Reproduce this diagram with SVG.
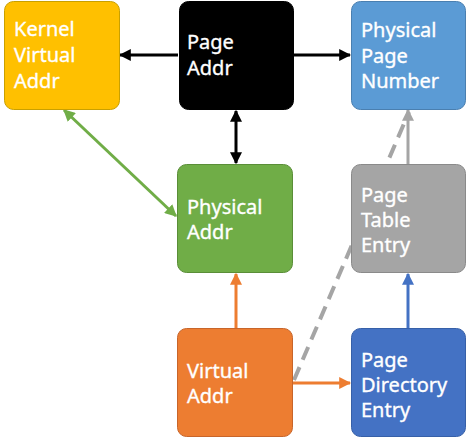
<svg xmlns="http://www.w3.org/2000/svg" width="467" height="438" viewBox="0 0 467 438">
<defs>
<style>
.box{stroke-width:1}
.t{font-family:"Noto Sans","Open Sans","DejaVu Sans",sans-serif;font-size:20px;fill:#fff;stroke:#fff;stroke-width:0.35px}
.c{fill:none;stroke-width:3}
</style>
<marker id="ak" viewBox="0 0 10 10" refX="9" refY="5" markerWidth="4" markerHeight="4" orient="auto-start-reverse" markerUnits="strokeWidth"><path d="M0,0L10,5L0,10z" fill="#000"/></marker>
<marker id="ag" viewBox="0 0 10 10" refX="9" refY="5" markerWidth="4" markerHeight="4" orient="auto-start-reverse" markerUnits="strokeWidth"><path d="M0,0L10,5L0,10z" fill="#70AD47"/></marker>
<marker id="ao" viewBox="0 0 10 10" refX="9" refY="5" markerWidth="4" markerHeight="4" orient="auto" markerUnits="strokeWidth"><path d="M0,0L10,5L0,10z" fill="#ED7D31"/></marker>
<marker id="ab" viewBox="0 0 10 10" refX="9" refY="5" markerWidth="4" markerHeight="4" orient="auto" markerUnits="strokeWidth"><path d="M0,0L10,5L0,10z" fill="#4472C4"/></marker>
<marker id="ay" viewBox="0 0 10 10" refX="9" refY="5" markerWidth="4" markerHeight="4" orient="auto" markerUnits="strokeWidth"><path d="M0,0L10,5L0,10z" fill="#A5A5A5"/></marker>
</defs>
<g id="connectors">
<line x1="294" y1="380" x2="409" y2="112" stroke="#A5A5A5" stroke-width="4" stroke-dasharray="14,8" fill="none"/>
<line class="c" x1="178" y1="55" x2="120" y2="55" stroke="#000" marker-end="url(#ak)"/>
<line class="c" x1="294" y1="55" x2="350" y2="55" stroke="#000" marker-end="url(#ak)"/>
<line class="c" x1="236" y1="111" x2="236" y2="163" stroke="#000" marker-start="url(#ak)" marker-end="url(#ak)"/>
<line class="c" x1="64" y1="110" x2="176" y2="216" stroke="#70AD47" marker-start="url(#ag)" marker-end="url(#ag)"/>
<line class="c" x1="236" y1="328" x2="236" y2="274" stroke="#ED7D31" marker-end="url(#ao)"/>
<line class="c" x1="293" y1="383" x2="350" y2="383" stroke="#ED7D31" marker-end="url(#ao)"/>
<line class="c" x1="408" y1="328" x2="408" y2="274" stroke="#4472C4" marker-end="url(#ab)"/>
<line class="c" x1="408" y1="164" x2="408" y2="110" stroke="#A5A5A5" marker-end="url(#ay)"/>
</g>
<g id="kernel-virtual-addr">
<rect class="box" x="4.5" y="1.5" width="115" height="108" rx="9" fill="#FFC000" stroke="#C9A000"/>
<text class="t" x="14" y="36">Kernel</text>
<text class="t" x="14" y="62">Virtual</text>
<text class="t" x="14" y="88">Addr</text>
</g>
<g id="page-addr">
<rect class="box" x="179.5" y="1.5" width="114" height="108" rx="9" fill="#000" stroke="#000"/>
<text class="t" x="187" y="49">Page</text>
<text class="t" x="187" y="75">Addr</text>
</g>
<g id="physical-page-number">
<rect class="box" x="351.5" y="1.5" width="114" height="108" rx="9" fill="#5B9BD5" stroke="#4A7FB0"/>
<text class="t" x="361" y="37">Physical</text>
<text class="t" x="361" y="63">Page</text>
<text class="t" x="361" y="88">Number</text>
</g>
<g id="physical-addr">
<rect class="box" x="177.5" y="164.5" width="115" height="108" rx="9" fill="#70AD47" stroke="#5A8E38"/>
<text class="t" x="187" y="214">Physical</text>
<text class="t" x="187" y="239">Addr</text>
</g>
<g id="page-table-entry">
<rect class="box" x="351.5" y="164.5" width="114" height="108" rx="9" fill="#A5A5A5" stroke="#8A8A8A"/>
<text class="t" x="361" y="202">Page</text>
<text class="t" x="361" y="227">Table</text>
<text class="t" x="361" y="252">Entry</text>
</g>
<g id="virtual-addr">
<rect class="box" x="177.5" y="328.5" width="115" height="108" rx="9" fill="#ED7D31" stroke="#C8652A"/>
<text class="t" x="187" y="378">Virtual</text>
<text class="t" x="187" y="403">Addr</text>
</g>
<g id="page-directory-entry">
<rect class="box" x="351.5" y="328.5" width="114" height="108" rx="9" fill="#4472C4" stroke="#3760A8"/>
<text class="t" x="361" y="367">Page</text>
<text class="t" x="361" y="392">Directory</text>
<text class="t" x="361" y="417">Entry</text>
</g>
</svg>
